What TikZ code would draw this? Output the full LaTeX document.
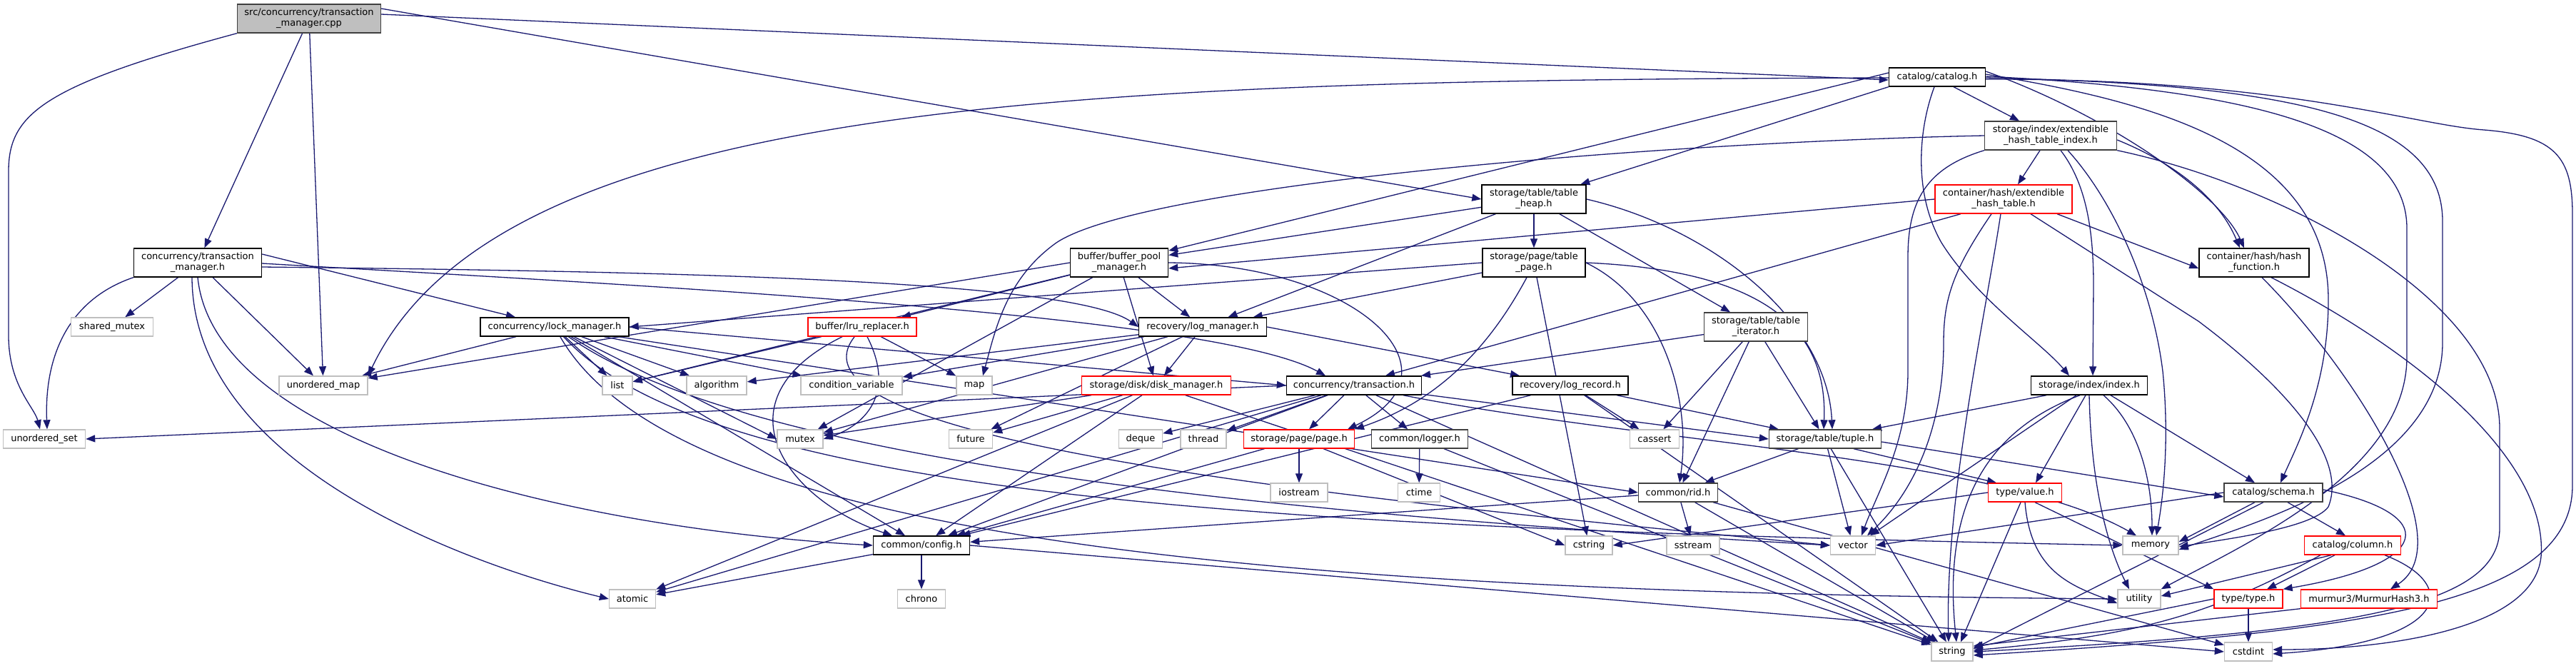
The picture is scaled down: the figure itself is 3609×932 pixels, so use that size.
\documentclass[tikz,border=0pt]{standalone}
\usepackage{fontspec}
\setmainfont{DejaVu Sans}
\usetikzlibrary{arrows.meta,backgrounds}
\definecolor{edgeblue}{HTML}{191970}
\definecolor{extgrey}{HTML}{BFBFBF}
\definecolor{cppfill}{HTML}{BFBFBF}
\definecolor{redb}{HTML}{FF0000}
\begin{document}
\begin{tikzpicture}[x=1pt,y=-1pt,
  nd/.style={draw=black, fill=white, rectangle, inner sep=0pt, line width=1.4pt,
    font=\fontsize{13}{15}\selectfont, align=center, minimum height=26pt},
  two/.style={minimum height=40pt},
  ext/.style={nd, draw=extgrey},
  rd/.style={nd, draw=redb},
  e/.style={draw=edgeblue, line width=1.3pt, -{Triangle[length=13pt,width=10pt]}}]
\useasboundingbox (0,0) rectangle (3609,932);
% ---------- nodes ----------
\node[nd, two, fill=cppfill, draw=black!75, minimum width=201pt] (cpp) at (433,26) {src/concurrency/transaction\\\_manager.cpp};
\node[nd, two, minimum width=179pt] (tmh) at (277,368) {concurrency/transaction\\\_manager.h};
\node[ext, minimum width=115pt] (shmtx) at (157,458) {shared\_mutex};
\node[nd, minimum width=208pt] (lockm) at (777,458) {concurrency/lock\_manager.h};
\node[nd, minimum width=135pt] (catalog) at (2714,108) {catalog/catalog.h};
\node[nd, two, minimum width=185pt, draw=black!75] (ehti) at (2873,190) {storage/index/extendible\\\_hash\_table\_index.h};
\node[rd, two, minimum width=192pt] (eht) at (2807,279) {container/hash/extendible\\\_hash\_table.h};
\node[nd, two, minimum width=154pt] (hashf) at (3158,368) {container/hash/hash\\\_function.h};
\node[nd, two, minimum width=146pt] (theap) at (2149,279) {storage/table/table\\\_heap.h};
\node[nd, two, minimum width=144pt] (tpage) at (2149,368) {storage/page/table\\\_page.h};
\node[nd, two, minimum width=145pt, draw=black!75] (titer) at (2460,458) {storage/table/table\\\_iterator.h};
\node[nd, two, minimum width=137pt] (bpm) at (1568,368) {buffer/buffer\_pool\\\_manager.h};
\node[rd, minimum width=152pt] (lru) at (1208,458) {buffer/lru\_replacer.h};
\node[nd, minimum width=179pt] (logm) at (1685,458) {recovery/log\_manager.h};
\node[ext, minimum width=124pt] (umap) at (453,540) {unordered\_map};
\node[ext, minimum width=115pt] (uset) at (62,615) {unordered\_set};
\node[ext, minimum width=42pt] (list) at (865,540) {list};
\node[ext, minimum width=65pt] (atomic) at (886,839) {atomic};
\node[ext, minimum width=84pt] (algo) at (1004,540) {algorithm};
\node[ext, minimum width=142pt] (condvar) at (1193,540) {condition\_variable};
\node[ext, minimum width=50pt] (map) at (1365,540) {map};
\node[rd, minimum width=209pt] (diskm) at (1620,540) {storage/disk/disk\_manager.h};
\node[nd, minimum width=189pt] (txn) at (1897,540) {concurrency/transaction.h};
\node[ext, minimum width=64pt] (mutex) at (1121,615) {mutex};
\node[ext, minimum width=61pt] (future) at (1360,615) {future};
\node[ext, minimum width=61pt] (deque) at (1598,615) {deque};
\node[ext, minimum width=64pt] (thread) at (1686,615) {thread};
\node[rd, minimum width=155pt] (page) at (1820,615) {storage/page/page.h};
\node[ext, minimum width=80pt] (iostream) at (1820,690) {iostream};
\node[nd, minimum width=135pt] (config) at (1291,764) {common/config.h};
\node[ext, minimum width=67pt] (chrono) at (1291,839) {chrono};
\node[nd, minimum width=162pt] (logrec) at (2200,540) {recovery/log\_record.h};
\node[nd, minimum width=135pt, draw=black!75] (logger) at (1989,615) {common/logger.h};
\node[ext, minimum width=69pt] (cassert) at (2318,615) {cassert};
\node[nd, minimum width=157pt, draw=black!75] (tuple) at (2557,615) {storage/table/tuple.h};
\node[ext, minimum width=59pt] (ctime) at (1988,690) {ctime};
\node[nd, minimum width=111pt, draw=black!75] (rid) at (2351,690) {common/rid.h};
\node[ext, minimum width=66pt] (cstring) at (2226,764) {cstring};
\node[ext, minimum width=74pt] (sstream) at (2372,764) {sstream};
\node[ext, minimum width=63pt] (vector) at (2596,764) {vector};
\node[ext, minimum width=58pt] (string) at (2735,913) {string};
\node[nd, minimum width=163pt] (index) at (2927,540) {storage/index/index.h};
\node[rd, minimum width=103pt] (value) at (2837,690) {type/value.h};
\node[nd, minimum width=138pt, draw=black!75] (schema) at (3185,690) {catalog/schema.h};
\node[ext, minimum width=78pt] (memory) at (3013,764) {memory};
\node[rd, minimum width=135pt] (column) at (3296,764) {catalog/column.h};
\node[ext, minimum width=60pt] (utility) at (2997,839) {utility};
\node[rd, minimum width=96pt] (type) at (3150,839) {type/type.h};
\node[rd, minimum width=191pt] (murmur) at (3319,839) {murmur3/MurmurHash3.h};
\node[ext, minimum width=67pt] (cstdint) at (3150,913) {cstdint};
% ---------- edges ----------
\begin{scope}[on background layer]
\fill[white] (0,0) rectangle (3609,932);
% cpp
\draw[e] (cpp) -- (tmh);
\draw[e] (cpp.south west) .. controls (60,120) and (12,160) .. (12,240) -- (12,470) .. controls (12,540) and (48,570) .. ([xshift=-6pt]uset.north);
\draw[e] (cpp) -- (umap);
\draw[e] ([yshift=6pt]cpp.east) -- ([yshift=-4pt]catalog.west);
\draw[e] ([yshift=14pt]cpp.east) -- (theap.west);
% transaction_manager.h
\draw[e] (tmh) -- (shmtx);
\draw[e] (tmh.south west) .. controls (95,420) and (62,500) .. ([xshift=4pt]uset.north);
\draw[e] (tmh) -- (umap);
\draw[e] ([yshift=12pt]tmh.east) -- (lockm);
\draw[e] ([yshift=-6pt]tmh.east) .. controls (900,380) and (1500,390) .. (logm.west);
\draw[e] ([yshift=-1pt]tmh.east) .. controls (900,400) and (1700,440) .. ([xshift=-40pt]txn.north);
\draw[e] ([xshift=-8pt]tmh.south) .. controls (270,650) and (650,790) .. (atomic.west);
\draw[e] ([xshift=0pt]tmh.south) .. controls (300,620) and (800,740) .. (config.west);
% lock_manager.h
\draw[e] (lockm) -- (algo);
\draw[e] (lockm) -- (condvar);
\draw[e] (lockm) -- (list);
\draw[e] (lockm) -- (mutex.west);
\draw[e] (lockm) -- (umap);
\draw[e] (lockm) .. controls (1000,700) and (1800,740) .. (memory.west);
\draw[e] (lockm) .. controls (950,760) and (1800,830) .. (utility.west);
\draw[e] (lockm) .. controls (1050,650) and (1800,720) .. (vector.west);
\draw[e] (lockm) -- (config);
\draw[e] (lockm) -- (rid.west);
\draw[e] (lockm.east) -- (txn.west);
% transaction.h
\draw[e] (txn) -- (atomic);
\draw[e] (txn) -- (deque);
\draw[e] (txn) .. controls (2300,620) and (2800,640) .. ([xshift=-20pt]memory.north);
\draw[e] (txn) -- (string);
\draw[e] (txn) -- (thread);
\draw[e] (txn.west) -- (uset.east);
\draw[e] (txn) -- (config);
\draw[e] (txn) -- (logger);
\draw[e] (txn) -- (page);
\draw[e] (txn) -- (tuple.west);
% buffer_pool_manager.h
\draw[e] (bpm) -- (list);
\draw[e] (bpm) -- (mutex);
\draw[e] (bpm.west) -- (umap);
\draw[e] (bpm) -- (lru);
\draw[e] (bpm) -- (logm);
\draw[e] (bpm) -- (diskm);
\draw[e] (bpm.east) .. controls (1900,370) and (2060,520) .. ([xshift=68pt]page.north);
% lru_replacer.h
\draw[e] (lru) -- (list);
\draw[e] (lru) .. controls (1260,560) and (1200,600) .. (mutex.east);
\draw[e] (lru) -- (map);
\draw[e] (lru) .. controls (1080,620) and (1900,700) .. (vector.west);
\draw[e] (lru) .. controls (1000,560) and (1100,700) .. (config);
% log_manager.h
\draw[e] (logm) -- (algo);
\draw[e] (logm) -- (condvar);
\draw[e] (logm) -- (future);
\draw[e] (logm) -- (mutex);
\draw[e] (logm.east) -- (logrec);
\draw[e] (logm) -- (diskm);
% disk_manager.h
\draw[e] (diskm) -- (atomic);
\draw[e] (diskm) -- (future);
\draw[e] (diskm) -- (mutex);
\draw[e] (diskm) -- (string);
\draw[e] (diskm) -- (config);
% page.h
\draw[e] (page) -- (cstring.west);
\draw[e] (page) -- (iostream);
\draw[e] (page) -- (config);
% logger.h
\draw[e] (logger) -- (ctime);
\draw[e] (logger) -- (string);
% log_record.h
\draw[e] (logrec) -- (cassert);
\draw[e] (logrec) -- (string);
\draw[e] (logrec) -- (config);
\draw[e] (logrec) -- (tuple);
% tuple.h
\draw[e] (tuple) -- (string);
\draw[e] (tuple) -- (vector);
\draw[e] ([yshift=-4pt]tuple.east) -- ([yshift=-6pt]schema.west);
\draw[e] (tuple) -- (rid);
\draw[e] ([xshift=40pt]tuple.south) -- ([xshift=-40pt]value.north);
% rid.h
\draw[e] (rid) -- (cstdint);
\draw[e] (rid) -- (sstream);
\draw[e] (rid) -- (string);
\draw[e] (rid) -- (config);
% config.h
\draw[e] (config) -- (atomic);
\draw[e] (config) -- (chrono);
\draw[e] (config.east) -- (cstdint.west);
% table_heap.h
\draw[e] (theap) -- (bpm);
\draw[e] (theap) -- (logm);
\draw[e] (theap) -- (tpage);
\draw[e] (theap) -- (titer);
\draw[e] (theap.east) .. controls (2400,320) and (2560,450) .. ([xshift=10pt]tuple.north);
% table_page.h
\draw[e] (tpage) -- (cstring);
\draw[e] (tpage.east) .. controls (2330,420) and (2370,560) .. (rid);
\draw[e] (tpage.west) -- (lockm.east);
\draw[e] (tpage) -- (logm);
\draw[e] ([xshift=-10pt]tpage.south) .. controls (2090,480) and (2020,560) .. ([xshift=78pt]page.north);
\draw[e] (tpage.east) .. controls (2500,380) and (2560,480) .. ([xshift=-2pt]tuple.north);
% table_iterator.h
\draw[e] (titer) -- (cassert);
\draw[e] (titer) -- (rid);
\draw[e] (titer) -- (txn);
\draw[e] (titer) -- (tuple);
% catalog.h
\draw[e] ([yshift=6pt]catalog.west) -- (bpm);
\draw[e] ([xshift=-4pt]catalog.south) .. controls (2688,180) and (2680,270) .. (2720,340) .. controls (2770,420) and (2860,480) .. ([xshift=-28pt]index.north);
\draw[e] ([xshift=23pt]catalog.south) -- ([xshift=-44pt]ehti.north);
\draw[e] ([yshift=8pt]catalog.east) .. controls (2950,160) and (3110,270) .. ([xshift=-14pt]hashf.north);
\draw[e] ([yshift=4pt]catalog.east) .. controls (3000,140) and (3262,200) .. (3262,420) .. controls (3262,540) and (3220,620) .. ([xshift=10pt]schema.north);
\draw[e] (catalog.south west) -- (theap);
\draw[e] ([yshift=1pt]catalog.east) .. controls (3150,125) and (3372,180) .. (3372,320) -- (3372,500) .. controls (3372,660) and (3150,760) .. (utility.north east);
\draw[e] ([yshift=-1pt]catalog.east) .. controls (3200,118) and (3422,160) .. (3422,310) -- (3422,480) .. controls (3422,660) and (3150,735) .. ([yshift=-6pt]memory.east);
\draw[e] ([yshift=-3pt]catalog.east) .. controls (3200,110) and (3380,175) .. (3480,182) .. controls (3580,190) and (3604,220) .. (3604,300) -- (3604,680) .. controls (3604,850) and (3300,885) .. ([yshift=-5pt]string.east);
\draw[e] ([yshift=-1pt]catalog.west) .. controls (1500,112) and (700,140) .. (umap.north east);
% extendible_hash_table_index.h
\draw[e] ([xshift=-15pt]ehti.south) -- ([xshift=20pt]eht.north);
\draw[e] ([yshift=-6pt]ehti.east) .. controls (3050,230) and (3110,280) .. ([xshift=-20pt]hashf.north);
\draw[e] ([xshift=14pt]ehti.south) .. controls (2925,260) and (2933,330) .. (2933,400) -- ([xshift=5pt]index.north);
\draw[e] (ehti.south east) .. controls (3200,260) and (3502,420) .. (3502,600) -- (3502,740) .. controls (3502,850) and (3300,885) .. (string.east);
\draw[e] (ehti.south west) .. controls (2700,235) and (2673,280) .. (2673,360) -- (2673,520) .. controls (2673,620) and (2630,690) .. ([xshift=12pt]vector.north);
\draw[e] ([xshift=24pt]ehti.south) .. controls (2960,280) and (3015,400) .. (3030,520) .. controls (3040,620) and (3030,700) .. ([xshift=8pt]memory.north);
\draw[e] (ehti.west) .. controls (2300,200) and (1600,260) .. (1480,340) .. controls (1410,390) and (1395,460) .. ([xshift=12pt]map.north);
% extendible_hash_table.h
\draw[e] (eht.west) -- ([yshift=-8pt]bpm.east);
\draw[e] ([xshift=-60pt]eht.south) -- ([xshift=44pt]txn.north);
\draw[e] ([xshift=75pt]eht.south) -- ([yshift=-8pt]hashf.west);
\draw[e] ([xshift=-4pt]eht.south) .. controls (2780,450) and (2725,700) .. ([xshift=-5pt]string.north);
\draw[e] ([xshift=-17pt]eht.south) .. controls (2735,380) and (2723,420) .. (2723,480) .. controls (2723,600) and (2680,690) .. ([xshift=20pt]vector.north);
\draw[e] ([xshift=38pt]eht.south) -- (3080,450) .. controls (3200,540) and (3290,640) .. (3262,710) .. controls (3240,740) and (3120,755) .. ([yshift=-2pt]memory.east);
% index.h
\draw[e] ([xshift=20pt]index.south) .. controls (3000,600) and (3015,680) .. ([xshift=2pt]memory.north);
\draw[e] ([xshift=-13pt]index.south) .. controls (2790,600) and (2720,700) .. ([xshift=6pt]string.north);
\draw[e] (index.south) .. controls (2930,700) and (2960,780) .. ([xshift=-14pt]utility.north);
\draw[e] ([xshift=-18pt]index.south) -- ([xshift=24pt]vector.north);
\draw[e] ([xshift=30pt]index.south) -- ([xshift=-26pt]schema.north);
\draw[e] ([xshift=-60pt]index.south) -- ([xshift=66pt]tuple.north);
\draw[e] ([xshift=-5pt]index.south) -- ([xshift=15pt]value.north);
% value.h
\draw[e] (value.west) -- (cstring.east);
\draw[e] ([xshift=-6pt]value.south) -- ([xshift=12pt]string.north);
\draw[e] (value.south) .. controls (2845,800) and (2900,820) .. ([yshift=-6pt]utility.west);
\draw[e] ([xshift=14pt]value.south) -- (type.north west);
% schema.h
\draw[e] ([xshift=-26pt]schema.south) -- ([yshift=5pt]memory.east);
\draw[e] ([xshift=-14pt]schema.south) -- ([yshift=4pt]string.east);
\draw[e] (schema.west) -- (vector.east);
\draw[e] ([xshift=20pt]schema.south) -- ([xshift=-10pt]column.north);
\draw[e] ([yshift=4pt]schema.east) .. controls (3420,720) and (3410,790) .. (type.north east);
% column.h
\draw[e] ([xshift=45pt]column.south) .. controls (3450,820) and (3430,900) .. ([yshift=-3pt]cstdint.east);
\draw[e] ([xshift=-45pt]column.south) .. controls (3100,860) and (3000,890) .. ([yshift=2pt]string.east);
\draw[e] ([xshift=-30pt]column.south) -- ([yshift=4pt]utility.east);
\draw[e] ([xshift=-25pt]column.south) -- ([xshift=26pt]type.north);
% type.h
\draw[e] (type) -- (cstdint);
\draw[e] (type.west) -- ([yshift=6pt]string.east);
% murmur
\draw[e] (murmur.south west) -- ([yshift=8pt]string.east);
% hash_function.h
\draw[e] ([xshift=11pt]hashf.south) .. controls (3300,520) and (3450,760) .. ([xshift=30pt]murmur.north);
\draw[e] ([xshift=24pt]hashf.south) .. controls (3400,500) and (3570,650) .. (3560,780) .. controls (3550,880) and (3350,910) .. ([yshift=3pt]cstdint.east);
\end{scope}
\end{tikzpicture}
\end{document}
